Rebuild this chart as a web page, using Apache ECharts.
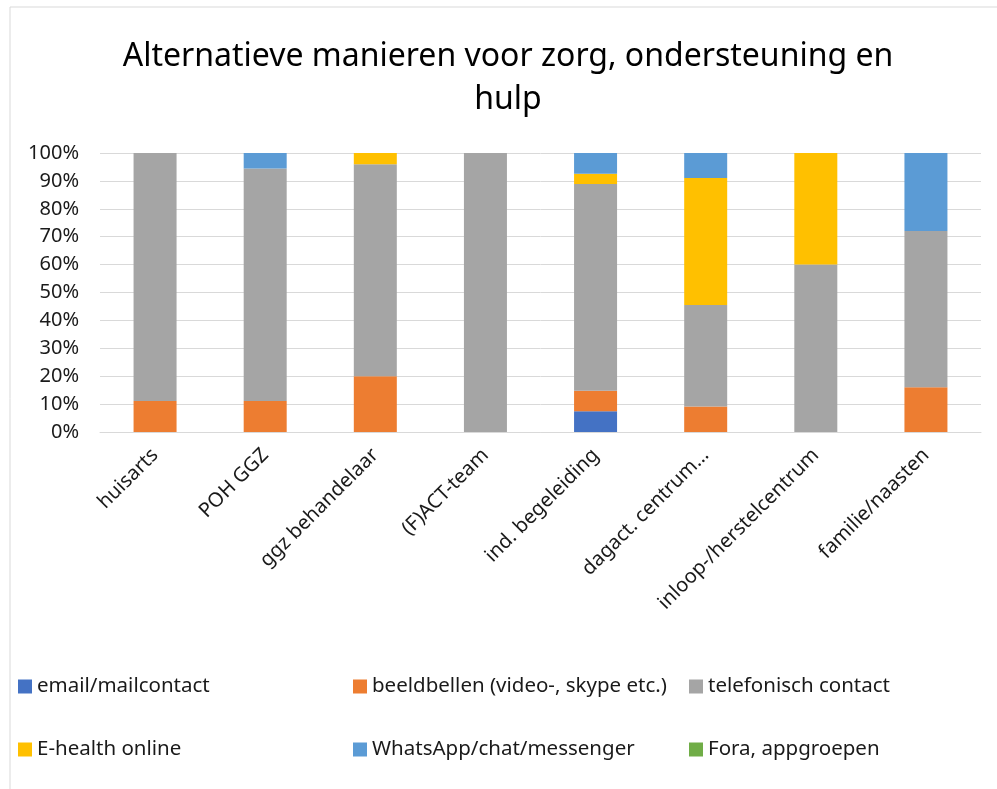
<!DOCTYPE html>
<html>
<head>
<meta charset="utf-8">
<script src="https://cdn.jsdelivr.net/npm/echarts@6/dist/echarts.min.js"></script>
<style>
  html, body { margin: 0; padding: 0; background: #fff; }
  #chart { width: 997px; height: 789px; }
</style>
</head>
<body>
<div id="chart"></div>
<script>
// categories and values (percent of respondents)
const categories = ['huisarts', 'POH GGZ', 'ggz behandelaar', '(F)ACT-team', 'ind. begeleiding', 'dagact. centrum…', 'inloop-/herstelcentrum', 'familie/naasten']
const emailData = [0, 0, 0, 0, 7.4, 0, 0, 0]
const beeldbellenData = [11.1, 11.1, 20, 0, 7.4, 9.1, 0, 16]
const telefonischData = [88.9, 83.3, 76, 100, 74.1, 36.4, 60, 56]
const ehealthData = [0, 0, 4, 0, 3.7, 45.5, 40, 0]
const whatsappData = [0, 5.6, 0, 0, 7.4, 9.1, 0, 28]
const foraData = [0, 0, 0, 0, 0, 0, 0, 0]
const yTicks = [0, 10, 20, 30, 40, 50, 60, 70, 80, 90, 100]

const seriesNames = ['email/mailcontact', 'beeldbellen (video-, skype etc.)', 'telefonisch contact', 'E-health online', 'WhatsApp/chat/messenger', 'Fora, appgroepen']
const seriesData = [emailData, beeldbellenData, telefonischData, ehealthData, whatsappData, foraData]
const colors = ['#4472C4', '#ED7D31', '#A5A5A5', '#FFC000', '#5B9BD5', '#70AD47']

const font = '"Noto Sans", sans-serif'
const chart = echarts.init(document.getElementById('chart'))

let series = seriesNames.map((name, i) => ({
  name: name,
  type: 'bar',
  stack: 'total',
  barWidth: 43,
  itemStyle: { color: colors[i] },
  emphasis: { disabled: true },
  data: seriesData[i].map(v => v === 0 ? null : v)
}))

let legendText = { fontFamily: font, fontSize: 20.5, color: '#1a1a1a' }
let legends = [0, 1, 2].map(col => ({
  orient: 'vertical',
  left: [13, 348, 684][col],
  top: 671,
  itemGap: 42,
  itemWidth: 14,
  itemHeight: 14,
  icon: 'rect',
  textStyle: legendText,
  data: [seriesNames[col], seriesNames[col + 3]]
}))

chart.setOption({
  color: colors,
  animation: false,
  title: {
    text: 'Alternatieve manieren voor zorg, ondersteuning en\nhulp',
    left: 503,
    textAlign: 'center',
    top: 30,
    textStyle: { fontFamily: font, fontSize: 32, fontWeight: 'normal', color: '#000', lineHeight: 43 }
  },
  graphic: [{
    type: 'rect',
    shape: { x: 10, y: 7, width: 1000, height: 800 },
    style: { fill: 'none', stroke: '#D9D9D9', lineWidth: 1 },
    silent: true
  }],
  legend: legends,
  grid: { left: 100, right: 16, top: 153, bottom: 357 },
  xAxis: {
    type: 'category',
    data: categories,
    axisLine: { lineStyle: { color: '#D9D9D9', width: 1 } },
    axisTick: { show: false },
    axisLabel: { rotate: 45, interval: 0, margin: 20, fontFamily: font, fontSize: 20, color: '#1a1a1a' }
  },
  yAxis: {
    type: 'value',
    min: yTicks[0],
    max: yTicks[yTicks.length - 1],
    interval: 10,
    axisLine: { show: false },
    axisTick: { show: false },
    splitLine: { lineStyle: { color: '#D9D9D9', width: 1 } },
    axisLabel: { formatter: '{value}%', margin: 21, fontFamily: font, fontSize: 20, color: '#1a1a1a' }
  },
  series: series
})
</script>
</body>
</html>
